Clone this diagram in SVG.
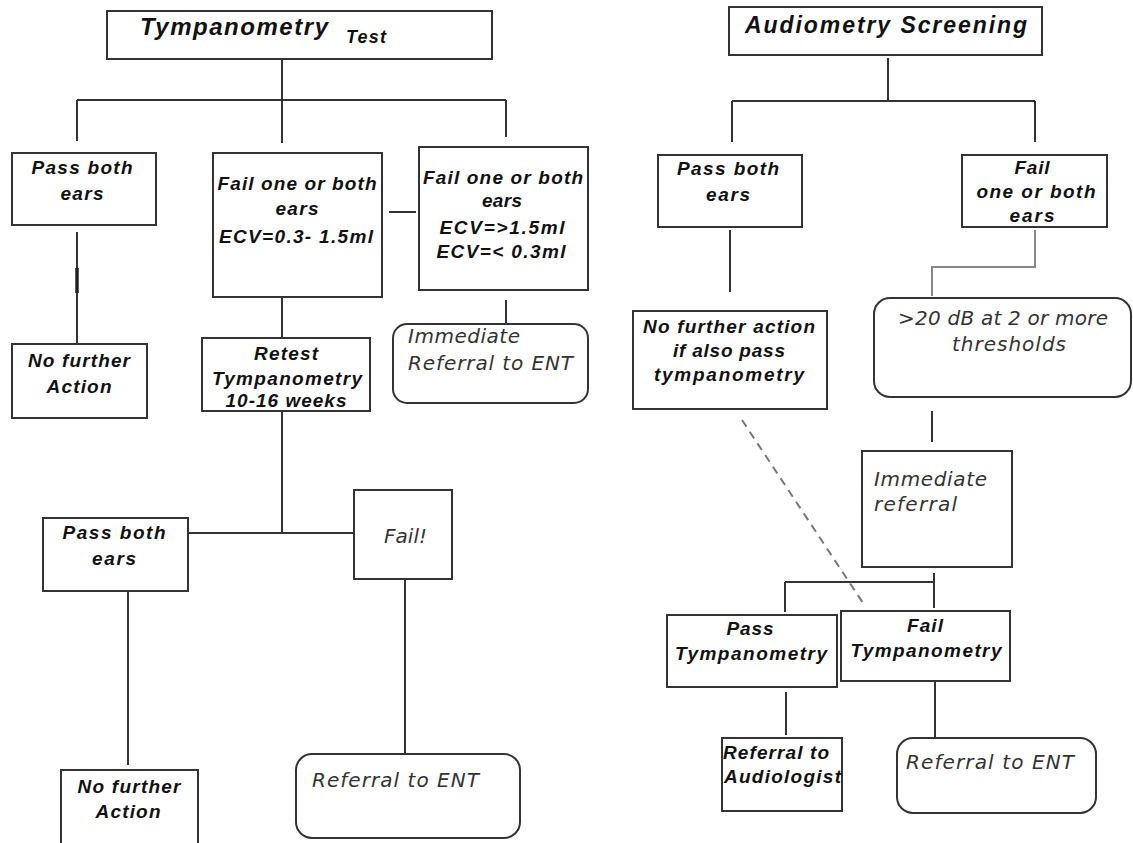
<svg xmlns="http://www.w3.org/2000/svg" width="1133" height="843" viewBox="0 0 1133 843">
<style>
.box{fill:#fff;stroke:#333;stroke-width:2}
.b{font-family:"Liberation Sans",Arial,sans-serif;font-weight:bold;font-style:italic;font-size:19px;fill:#111}
.m{text-anchor:middle}
.n{font-family:"DejaVu Sans",Verdana,sans-serif;font-style:italic;font-size:20px;fill:#333}
.t{font-family:"Liberation Sans",Arial,sans-serif;font-weight:bold;font-style:italic;fill:#111}
.c{stroke:#333;stroke-width:2;fill:none}
.g{stroke:#888;stroke-width:2;fill:none}
.d{stroke:#777;stroke-width:2;fill:none;stroke-dasharray:8 6}
</style>
<rect width="1133" height="843" fill="#fff"/>
<g id="connectors">
<path class="c" d="M282,59V100M77,100H506M77,100V141M282,100V143M506,100V137"/>
<path class="c" d="M77,232V344"/>
<path stroke="#222" stroke-width="3.5" d="M77,268V293"/>
<path class="c" d="M389,212H416"/>
<path class="c" d="M506,300V324"/>
<path class="c" d="M282,297V338"/>
<path class="c" d="M282,411V533M188,533H354"/>
<path class="c" d="M128,591V765"/>
<path class="c" d="M405,579V754"/>
<path class="c" d="M888,58V101M732,101H1035M732,101V142M1035,101V142"/>
<path class="c" d="M730,230V292"/>
<path class="g" d="M1035,230V267H932V296"/>
<path class="c" d="M932,411V442"/>
<path class="c" d="M934,573V608M785,582H935M785,582V612"/>
<path class="d" d="M742,420L865,606"/>
<path class="c" d="M786,692V735"/>
<path class="c" d="M935,681V738"/>
</g>
<g id="L_title">
<rect class="box" x="107" y="11" width="385" height="48"/>
<text class="t" x="140" y="35" font-size="24" textLength="188">Tympanometry</text>
<text class="t" x="346" y="43" font-size="18" textLength="40">Test</text>
</g>
<g id="L_pass">
<rect class="box" x="12" y="153" width="144" height="72"/>
<text class="b m" x="82" y="174" textLength="101">Pass both</text>
<text class="b m" x="82" y="200" textLength="43">ears</text>
</g>
<g id="L_fail1">
<rect class="box" x="213" y="153" width="169" height="144"/>
<text class="b m" x="297" y="190" textLength="159">Fail one or both</text>
<text class="b m" x="297" y="215" textLength="43">ears</text>
<text class="b m" x="296" y="243" textLength="154">ECV=0.3- 1.5ml</text>
</g>
<g id="L_fail2">
<rect class="box" x="419" y="147" width="169" height="143"/>
<text class="b m" x="503" y="184" textLength="160">Fail one or both</text>
<text class="b m" x="502" y="207" textLength="40">ears</text>
<text class="b m" x="502" y="234" textLength="125">ECV=&gt;1.5ml</text>
<text class="b m" x="501" y="258" textLength="129">ECV=&lt; 0.3ml</text>
</g>
<g id="L_nfa1">
<rect class="box" x="12" y="344" width="135" height="74"/>
<text class="b m" x="79" y="367" textLength="102">No further</text>
<text class="b m" x="79" y="393" textLength="65">Action</text>
</g>
<g id="L_imm">
<rect class="box" x="393" y="324" width="195" height="79" rx="14"/>
<text class="n" x="408" y="343" textLength="112">Immediate</text>
<text class="n" x="408" y="370" textLength="165">Referral to ENT</text>
</g>
<g id="L_retest">
<rect class="box" x="202" y="338" width="168" height="73"/>
<text class="b m" x="286" y="360" textLength="64">Retest</text>
<text class="b m" x="287" y="385" textLength="150">Tympanometry</text>
<text class="b m" x="286" y="407" textLength="121">10-16 weeks</text>
</g>
<g id="L_pass2">
<rect class="box" x="43" y="518" width="145" height="73"/>
<text class="b m" x="114" y="539" textLength="103">Pass both</text>
<text class="b m" x="114" y="565" textLength="44">ears</text>
</g>
<g id="L_failx">
<rect class="box" x="354" y="490" width="98" height="89"/>
<text class="n" x="384" y="543" textLength="43" fill="#222">Fail!</text>
</g>
<g id="L_nfa2">
<rect class="box" x="61" y="770" width="137" height="80"/>
<text class="b m" x="129" y="793" textLength="103">No further</text>
<text class="b m" x="128" y="818" textLength="65">Action</text>
</g>
<g id="L_ent">
<rect class="box" x="296" y="754" width="224" height="84" rx="16"/>
<text class="n" x="312" y="787" textLength="167">Referral to ENT</text>
</g>
<g id="R_title">
<rect class="box" x="729" y="7" width="313" height="48"/>
<text class="t" x="745" y="33" font-size="23" textLength="282">Audiometry Screening</text>
</g>
<g id="R_pass">
<rect class="box" x="658" y="155" width="144" height="72"/>
<text class="b m" x="728" y="175" textLength="102">Pass both</text>
<text class="b m" x="728" y="201" textLength="44">ears</text>
</g>
<g id="R_fail">
<rect class="box" x="962" y="155" width="145" height="72"/>
<text class="b m" x="1032" y="174" textLength="35">Fail</text>
<text class="b m" x="1036" y="198" textLength="119">one or both</text>
<text class="b m" x="1032" y="222" textLength="45">ears</text>
</g>
<g id="R_nfa">
<rect class="box" x="633" y="311" width="194" height="98"/>
<text class="b m" x="729" y="333" textLength="172">No further action</text>
<text class="b m" x="729" y="357" textLength="112">if also pass</text>
<text class="b m" x="729" y="381" textLength="150">tympanometry</text>
</g>
<g id="R_20db">
<rect class="box" x="874" y="298" width="257" height="99" rx="16"/>
<text class="n" x="898" y="325" textLength="210">&gt;20 dB at 2 or more</text>
<text class="n" x="952" y="351" textLength="114">thresholds</text>
</g>
<g id="R_imm">
<rect class="box" x="862" y="451" width="150" height="116"/>
<text class="n" x="874" y="486" textLength="113">Immediate</text>
<text class="n" x="874" y="511" textLength="83">referral</text>
</g>
<g id="R_passT">
<rect class="box" x="667" y="615" width="170" height="72"/>
<text class="b m" x="750" y="635" textLength="47">Pass</text>
<text class="b m" x="751" y="660" textLength="152">Tympanometry</text>
</g>
<g id="R_failT">
<rect class="box" x="841" y="611" width="169" height="70"/>
<text class="b m" x="925" y="632" textLength="36">Fail</text>
<text class="b m" x="926" y="657" textLength="151">Tympanometry</text>
</g>
<g id="R_aud">
<rect class="box" x="722" y="738" width="120" height="73"/>
<text class="b" x="723" y="759" textLength="106">Referral to</text>
<text class="b" x="724" y="783" textLength="117">Audiologist</text>
</g>
<g id="R_ent">
<rect class="box" x="897" y="738" width="199" height="75" rx="16"/>
<text class="n" x="906" y="769" textLength="168">Referral to ENT</text>
</g>
</svg>
